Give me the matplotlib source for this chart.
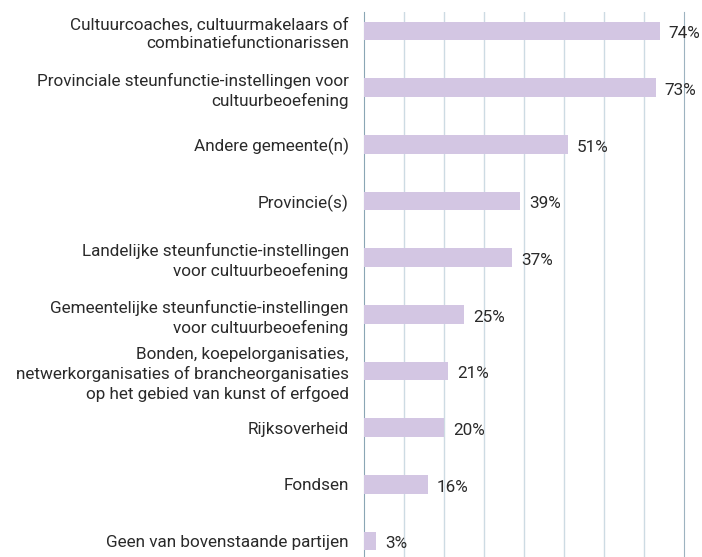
import matplotlib
matplotlib.use("Agg")
import matplotlib.pyplot as plt

categories = [
    "Cultuurcoaches, cultuurmakelaars of\ncombinatiefunctionarissen",
    "Provinciale steunfunctie-instellingen voor\ncultuurbeoefening",
    "Andere gemeente(n)",
    "Provincie(s)",
    "Landelijke steunfunctie-instellingen\nvoor cultuurbeoefening",
    "Gemeentelijke steunfunctie-instellingen\nvoor cultuurbeoefening",
    "Bonden, koepelorganisaties,\nnetwerkorganisaties of brancheorganisaties\nop het gebied van kunst of erfgoed",
    "Rijksoverheid",
    "Fondsen",
    "Geen van bovenstaande partijen",
]
percentages = [74, 73, 51, 39, 37, 25, 21, 20, 16, 3]

plt.rcParams["font.family"] = ["Roboto", "DejaVu Sans"]

fig = plt.figure(figsize=(7.02, 5.57), dpi=100)
ax = fig.add_axes([364 / 702, 0, 320 / 702, 1 - 12 / 557])

pos = list(range(len(categories)))
ax.barh(pos, percentages, height=0.33, color="#d3c6e3", zorder=3)

for y, v in zip(pos, percentages):
    ax.text(v + 2.2, y + 0.05, f"{v}%", va="center", ha="left",
            fontsize=12.3, color="#2a2a2a", zorder=4)

ax.set_xlim(0, 80)
ax.set_ylim(9 + 0.28, -0.335)
ax.set_xticks(range(10, 80, 10))
ax.xaxis.grid(True, color="#cddbe3", linewidth=1, zorder=0)
ax.set_yticks(pos)
ax.set_yticklabels(categories, fontsize=12.3, color="#2a2a2a", linespacing=1.3)
ax.tick_params(axis="y", length=0, pad=11)
ax.tick_params(axis="x", length=0, labelbottom=False)

for side in ["top", "bottom"]:
    ax.spines[side].set_visible(False)
ax.spines["left"].set_color("#8aa6b5")
ax.spines["right"].set_color("#9db3c0")

fig.savefig("out.png", dpi=100)
